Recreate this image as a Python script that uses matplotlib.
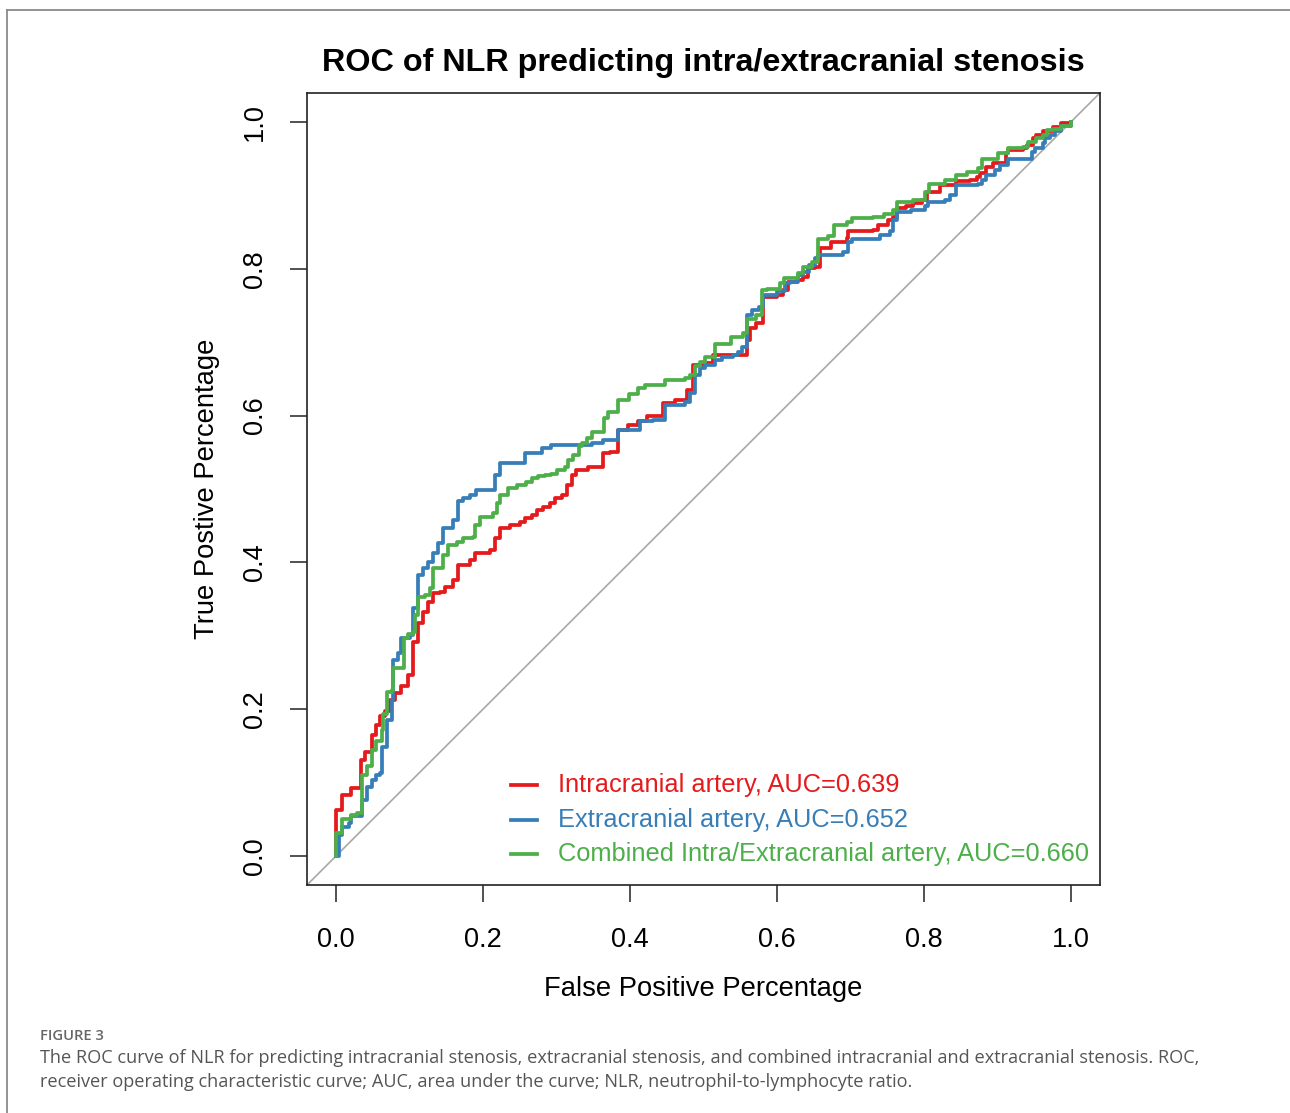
import matplotlib
matplotlib.use("Agg")
import matplotlib.pyplot as plt
from matplotlib.lines import Line2D

plt.rcParams['font.family'] = ['Liberation Sans', 'DejaVu Sans']

# ROC curve vertices (FPR, TPR)
intra_pts = [(0, 0), (0, .063), (.008, .083), (.021, .093), (.034, .131), (.039, .141),
             (.049, .165), (.055, .178), (.060, .190), (.067, .197), (.073, .213), (.080, .222),
             (.089, .231), (.098, .247), (.105, .251), (.105, .292), (.112, .317), (.118, .333),
             (.125, .346), (.132, .358), (.141, .360), (.148, .367), (.159, .376), (.166, .396),
             (.182, .403), (.189, .413), (.210, .417), (.216, .433), (.223, .447), (.237, .451),
             (.250, .455), (.257, .460), (.266, .465), (.273, .471), (.282, .476), (.291, .481),
             (.298, .488), (.307, .492), (.314, .505), (.321, .519), (.327, .526), (.343, .530),
             (.363, .549), (.373, .551), (.384, .580), (.397, .587), (.411, .592), (.423, .599),
             (.445, .617), (.461, .621), (.477, .635), (.486, .669), (.499, .672), (.513, .683),
             (.554, .683), (.559, .703), (.563, .719), (.572, .726), (.581, .735), (.581, .762),
             (.600, .764), (.608, .771), (.615, .782), (.627, .785), (.635, .789), (.642, .801),
             (.652, .803), (.659, .815), (.659, .828), (.669, .828), (.674, .837), (.695, .842),
             (.697, .851), (.731, .853), (.737, .860), (.751, .866), (.758, .871), (.763, .883),
             (.776, .885), (.785, .890), (.797, .894), (.804, .905), (.822, .914), (.844, .919),
             (.863, .921), (.872, .925), (.876, .930), (.885, .939), (.894, .944), (.912, .958),
             (.914, .962), (.935, .965), (.940, .969), (.948, .978), (.953, .982), (.962, .987),
             (.976, .993), (.987, .998), (1, 1)]

extra_pts = [(0, 0), (.004, .018), (.004, .029), (.008, .040), (.017, .045), (.021, .054),
             (.035, .056), (.035, .076), (.042, .094), (.049, .104), (.055, .110), (.060, .113),
             (.062, .149), (.069, .185), (.076, .213), (.077, .267), (.084, .277), (.089, .297),
             (.101, .301), (.105, .338), (.112, .383), (.118, .392), (.125, .401), (.132, .413),
             (.139, .426), (.146, .447), (.159, .458), (.166, .483), (.173, .488), (.182, .492),
             (.191, .499), (.216, .519), (.223, .535), (.257, .549), (.280, .556), (.293, .560),
             (.348, .563), (.363, .567), (.384, .580), (.414, .592), (.431, .594), (.448, .598),
             (.448, .614), (.475, .619), (.482, .631), (.488, .655), (.495, .665), (.502, .669),
             (.516, .676), (.525, .680), (.540, .683), (.547, .687), (.552, .694), (.559, .713),
             (.559, .737), (.566, .744), (.575, .748), (.581, .764), (.600, .769), (.611, .781),
             (.618, .782), (.629, .792), (.636, .796), (.643, .805), (.652, .814), (.656, .819),
             (.690, .823), (.697, .837), (.702, .841), (.740, .846), (.754, .851), (.758, .866),
             (.763, .877), (.783, .880), (.801, .885), (.806, .891), (.829, .894), (.835, .901),
             (.844, .914), (.874, .916), (.879, .921), (.885, .928), (.897, .935), (.903, .941),
             (.915, .950), (.942, .950), (.947, .959), (.951, .964), (.962, .971), (.965, .978),
             (.971, .982), (.978, .987), (.987, .994), (1, 1)]

comb_pts = [(0, 0), (0, .031), (.008, .051), (.021, .056), (.028, .058), (.035, .110),
            (.042, .122), (.049, .144), (.055, .156), (.062, .172), (.064, .194), (.069, .196),
            (.069, .224), (.076, .226), (.078, .256), (.089, .256), (.092, .297), (.098, .303),
            (.105, .305), (.107, .328), (.112, .353), (.121, .355), (.128, .365), (.132, .392),
            (.146, .410), (.153, .424), (.164, .428), (.173, .433), (.187, .435), (.189, .451),
            (.196, .462), (.214, .467), (.219, .481), (.223, .492), (.234, .501), (.246, .505),
            (.259, .510), (.266, .515), (.275, .517), (.284, .519), (.293, .521), (.300, .526),
            (.312, .530), (.316, .540), (.323, .546), (.330, .558), (.334, .562), (.341, .569),
            (.348, .578), (.364, .580), (.364, .596), (.370, .605), (.384, .621), (.398, .630),
            (.411, .637), (.420, .642), (.448, .649), (.475, .651), (.482, .655), (.488, .667),
            (.495, .673), (.502, .680), (.516, .698), (.538, .707), (.554, .712), (.559, .732),
            (.572, .737), (.579, .771), (.586, .773), (.604, .780), (.609, .787), (.629, .794),
            (.636, .803), (.647, .809), (.656, .814), (.656, .841), (.670, .844), (.677, .860),
            (.695, .864), (.702, .869), (.731, .871), (.745, .875), (.758, .880), (.763, .891),
            (.785, .894), (.801, .905), (.807, .916), (.829, .921), (.844, .928), (.858, .932),
            (.874, .937), (.879, .950), (.901, .957), (.915, .964), (.935, .966), (.942, .973),
            (.953, .978), (.962, .982), (.967, .989), (.976, .991), (.987, .995), (1, 1)]

labels = ["Intracranial artery, AUC=0.639",
          "Extracranial artery, AUC=0.652",
          "Combined Intra/Extracranial artery, AUC=0.660"]
colors = ["#E41A1C", "#377EB8", "#4DAF4A"]
ticks = [0.0, 0.2, 0.4, 0.6, 0.8, 1.0]

fig = plt.figure(figsize=(12.90, 11.13), dpi=100)
ax = fig.add_axes([0.238, 0.2049, 0.6147, 0.7116])

ax.axline((0, 0), (1, 1), color="#A8A8A8", lw=1.2, zorder=1)
for pts, c in zip([intra_pts, extra_pts, comb_pts], colors):
    xs = [p[0] for p in pts]
    ys = [p[1] for p in pts]
    ax.plot(xs, ys, drawstyle="steps-post", color=c, lw=2.7, zorder=2)

ax.set_xlim(-0.0395, 1.0395)
ax.set_ylim(-0.0395, 1.0395)
ax.set_xticks(ticks)
ax.set_yticks(ticks)
ax.set_xticklabels(["%.1f" % t for t in ticks])
ax.set_yticklabels(["%.1f" % t for t in ticks], rotation=90, va="center")
ax.tick_params(direction="out", length=12, width=1.1, labelsize=19.5, color="#222222")
ax.tick_params(axis="x", pad=18)
ax.tick_params(axis="y", pad=16)
for s in ax.spines.values():
    s.set_linewidth(1.2)
    s.set_color("#222222")

ax.set_xlabel("False Positive Percentage", fontsize=19.7, labelpad=17)
ax.set_ylabel("True Postive Percentage", fontsize=19.7, labelpad=16)
ax.set_title("ROC of NLR predicting intra/extracranial stenosis", fontsize=23.3,
             fontweight="bold", pad=16)

# legend, no box, coloured text
rows_y = [0.1263, 0.0821, 0.0392]
for lab, c, yy in zip(labels, colors, rows_y):
    ax.plot([0.257, 0.290], [yy, yy], color=c, lw=2.7, transform=ax.transAxes,
            clip_on=False)
    ax.text(0.3165, yy, lab, color=c, fontsize=18.3, va="center", ha="left",
            transform=ax.transAxes)

# page frame and caption
fig.add_artist(Line2D([0.0054, 1.0], [0.991, 0.991], color="#8A8A8A", lw=1.3))
fig.add_artist(Line2D([0.0054, 0.0054], [0.0, 0.991], color="#8A8A8A", lw=1.3))
fig.text(40 / 1290, 1 - 1036 / 1113, "FIGURE 3", family=["Open Sans", "DejaVu Sans"],
         fontsize=10.6, fontweight="semibold", color="#666666", va="center")
fig.text(40 / 1290, 1 - 1058 / 1113,
         "The ROC curve of NLR for predicting intracranial stenosis, extracranial stenosis, "
         "and combined intracranial and extracranial stenosis. ROC,",
         family=["Open Sans", "DejaVu Sans"], fontsize=13.05, color="#555555", va="center")
fig.text(40 / 1290, 1 - 1082 / 1113,
         "receiver operating characteristic curve; AUC, area under the curve; NLR, "
         "neutrophil-to-lymphocyte ratio.",
         family=["Open Sans", "DejaVu Sans"], fontsize=13.05, color="#555555", va="center")

fig.savefig("out.png", dpi=100)
